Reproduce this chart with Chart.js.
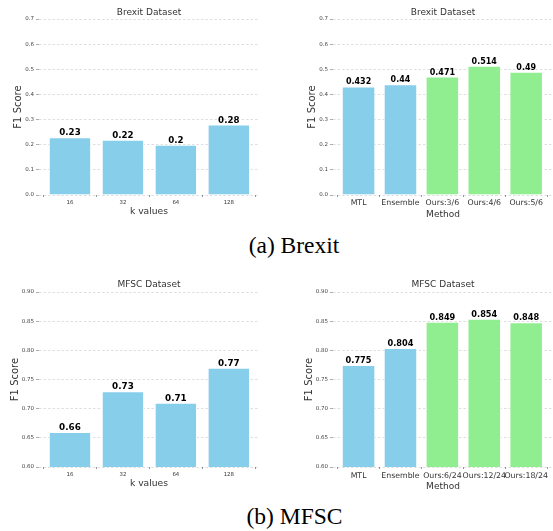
<!DOCTYPE html>
<html>
<head>
<meta charset="utf-8">
<script src="https://cdn.jsdelivr.net/npm/chart.js@4"></script>
<style>
  html, body { margin: 0; padding: 0; background: #fff; overflow: hidden; }
  #page { position: relative; width: 553px; height: 531px; overflow: hidden; }
  canvas { position: absolute; }
  .caption {
    position: absolute; font-family: "Liberation Serif", serif; font-size: 23.5px;
    line-height: 23.5px; white-space: nowrap; transform: translateX(-50%); color: #000;
  }
</style>
</head>
<body>
<div id="page">
  <canvas id="brexitK" width="262" height="225" style="left:0;top:0"></canvas>
  <canvas id="brexitMethod" width="259" height="225" style="left:295px;top:0"></canvas>
  <div class="caption" style="left:294px;top:234px">(a) Brexit</div>
  <canvas id="mfscK" width="262" height="230" style="left:0;top:270px"></canvas>
  <canvas id="mfscMethod" width="259" height="230" style="left:295px;top:270px"></canvas>
  <div class="caption" style="left:294.5px;top:505px">(b) MFSC</div>
</div>
<script>
// data
const kValues = ["16", "32", "64", "128"];
const brexitKScores = [0.23, 0.22, 0.2, 0.28];
const mfscKScores = [0.66, 0.73, 0.71, 0.77];

const brexitMethods = ["MTL", "Ensemble", "Ours:3/6", "Ours:4/6", "Ours:5/6"];
const brexitMethodScores = [0.432, 0.44, 0.471, 0.514, 0.49];
const mfscMethods = ["MTL", "Ensemble", "Ours:6/24", "Ours:12/24", "Ours:18/24"];
const mfscMethodScores = [0.775, 0.804, 0.849, 0.854, 0.848];

const brexitTicks = [0, 0.1, 0.2, 0.3, 0.4, 0.5, 0.6, 0.7];
const mfscTicks = [0.6, 0.65, 0.7, 0.75, 0.8, 0.85, 0.9];

const SKY = "#87ceeb";
const GREEN = "#90ee90";

Chart.defaults.font.family = "'DejaVu Sans', sans-serif";

// writes the score above each bar
const barValues = {
  id: "barValues",
  afterDatasetsDraw(chart, args, opts) {
    const ctx = chart.ctx;
    const meta = chart.getDatasetMeta(0);
    const points = chart.data.datasets[0].data;
    ctx.save();
    ctx.font = "bold " + opts.size + "px 'DejaVu Sans'";
    ctx.fillStyle = "#000";
    ctx.textAlign = "center";
    ctx.textBaseline = "alphabetic";
    meta.data.forEach((bar, i) => ctx.fillText(String(points[i].y), bar.x, bar.y - 2));
    ctx.restore();
  }
};

const makeChart = (id, labels, values, ticks, title, xTitle, box) => {
  const digits = ticks[1] - ticks[0] < 0.1 - 1e-9 ? 2 : 1;
  new Chart(document.getElementById(id), {
    type: "bar",
    data: {
      datasets: [{
        data: values.map((v, i) => ({ x: i, y: v })),
        backgroundColor: labels.map(l => l.startsWith("Ours") ? GREEN : SKY),
        borderColor: "rgba(255,255,255,0.85)",
        borderWidth: 1,
        barPercentage: 0.8,
        categoryPercentage: 1
      }]
    },
    options: {
      responsive: false,
      animation: false,
      layout: { padding: { left: 0, right: box.padRight, top: 0, bottom: 0 }, autoPadding: false },
      plugins: {
        legend: { display: false },
        tooltip: { enabled: false },
        title: {
          display: true, text: title, fullSize: false, color: "#333",
          font: { size: 9, weight: "normal" }, padding: box.titlePad
        },
        barValues: { size: box.valueSize }
      },
      scales: {
        x: {
          type: "linear",
          min: box.xMin,
          max: box.xMax,
          offset: false,
          afterBuildTicks: s => { s.ticks = labels.map((_, i) => ({ value: i })); },
          afterFit: s => { s.height = box.xHeight; },
          ticks: {
            autoSkip: false, maxRotation: 0, minRotation: 0,
            color: "#333", font: { size: box.tickSize }, padding: box.tickPad,
            callback: v => labels[v]
          },
          grid: { drawOnChartArea: false, drawTicks: true, tickLength: 2, tickColor: "#999" },
          border: { display: false },
          title: {
            display: true, text: xTitle, color: "#333",
            font: { size: box.xTitleSize }, padding: { top: 0, bottom: box.xTitlePad }
          }
        },
        y: {
          min: ticks[0],
          max: ticks[ticks.length - 1],
          afterBuildTicks: s => { s.ticks = ticks.map(v => ({ value: v })); },
          afterFit: s => { s.width = box.yWidth; },
          ticks: {
            color: "#444", font: { size: 5.5 }, padding: 2,
            callback: v => v.toFixed(digits)
          },
          grid: { color: "rgba(0,0,0,0.16)", lineWidth: 0.8, tickLength: 3, tickColor: "#999", tickWidth: 0.8 },
          border: { display: false, dash: [2.5, 2] },
          title: {
            display: true, text: "F1 Score", color: "#333",
            font: { size: 10 }, padding: { top: box.yTitlePad, bottom: 0 }
          }
        }
      }
    },
    plugins: [barValues]
  });
};

const leftBox = { yWidth: 39, padRight: 3, xMin: -0.585, xMax: 3.57, tickSize: 5.4, xTitleSize: 9.2 };
const rightBox = { yWidth: 38, padRight: 1, xMin: -0.61, xMax: 4.64, tickSize: 7.8, xTitleSize: 9 };

makeChart("brexitK", kValues, brexitKScores, brexitTicks, "Brexit Dataset", "k values",
  { ...leftBox, xHeight: 30, titlePad: { top: 6.8, bottom: 1.4 }, yTitlePad: 12.8, xTitlePad: 7.5, tickPad: 2, valueSize: 8.7 });
makeChart("brexitMethod", brexitMethods, brexitMethodScores, brexitTicks, "Brexit Dataset", "Method",
  { ...rightBox, xHeight: 30, titlePad: { top: 6.8, bottom: 1.4 }, yTitlePad: 11.5, xTitlePad: 4.6, tickPad: 1.5, valueSize: 8 });
makeChart("mfscK", kValues, mfscKScores, mfscTicks, "MFSC Dataset", "k values",
  { ...leftBox, xHeight: 33, titlePad: { top: 8.8, bottom: 2.4 }, yTitlePad: 9.5, xTitlePad: 10.7, tickPad: 2, valueSize: 8.8 });
makeChart("mfscMethod", mfscMethods, mfscMethodScores, mfscTicks, "MFSC Dataset", "Method",
  { ...rightBox, xHeight: 33, titlePad: { top: 8.8, bottom: 2.4 }, yTitlePad: 8, xTitlePad: 7.9, tickPad: 2.3, valueSize: 8.2 });
</script>
</body>
</html>
